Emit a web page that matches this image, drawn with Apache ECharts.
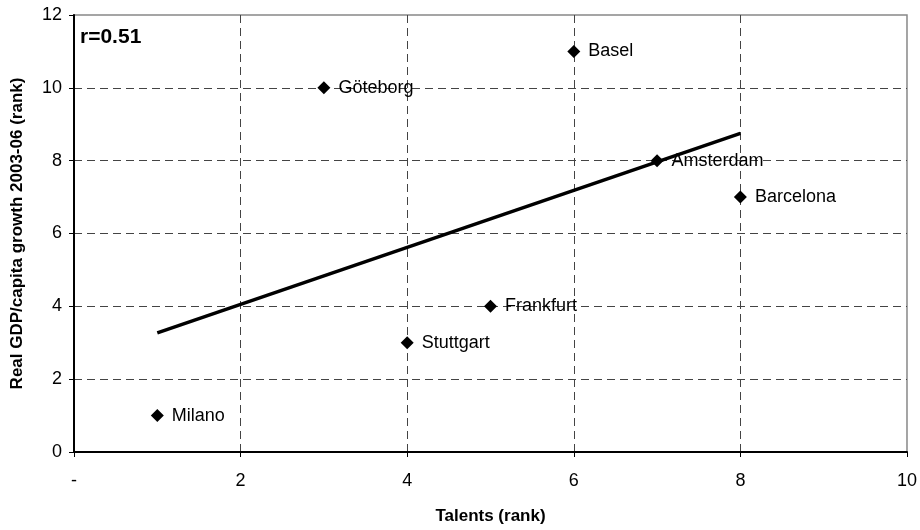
<!DOCTYPE html>
<html>
<head>
<meta charset="utf-8">
<script src="https://cdn.jsdelivr.net/npm/echarts@6/dist/echarts.min.js"></script>
<style>
  html, body { margin: 0; padding: 0; background: #fff; }
  #chart { width: 920px; height: 530px; }
</style>
</head>
<body>
<div id="chart"></div>
<script>
const cities = ['Milano', 'Göteborg', 'Stuttgart', 'Frankfurt', 'Basel', 'Amsterdam', 'Barcelona']
const talents = [1, 3, 4, 5, 6, 7, 8]
const gdpGrowth = [1, 10, 3, 4, 11, 8, 7]
const trendX = [1, 8]
const trendY = [3.27, 8.75]

const chart = echarts.init(document.getElementById('chart'))
const font = '"Liberation Sans", Arial, sans-serif'

const option = {
  animation: false,
  textStyle: { fontFamily: font },
  grid: {
    left: 74,
    right: 11,
    top: 15,
    bottom: 78,
    show: true,
    borderColor: '#888',
    borderWidth: 1.5,
  },
  xAxis: {
    type: 'value',
    min: 0,
    max: 10,
    interval: 2,
    name: 'Talents (rank)',
    nameLocation: 'middle',
    nameGap: 56,
    nameTextStyle: { fontWeight: 'bold', fontSize: 17, color: '#000' },
    axisLine: { lineStyle: { color: '#000', width: 2 } },
    axisTick: { show: true, length: 5, lineStyle: { color: '#000' } },
    axisLabel: {
      fontSize: 18,
      color: '#000',
      margin: 20,
      formatter: (v) => (v === 0 ? '-' : v),
    },
    splitLine: { showMinLine: false, showMaxLine: false, lineStyle: { type: [8, 5], color: '#444' } },
  },
  yAxis: {
    type: 'value',
    min: 0,
    max: 12,
    interval: 2,
    name: 'Real GDP/capita growth 2003-06 (rank)',
    nameLocation: 'middle',
    nameGap: 48,
    nameTextStyle: { fontWeight: 'bold', fontSize: 17, color: '#000' },
    axisLine: { show: true, lineStyle: { color: '#000', width: 2 } },
    axisTick: { show: true, length: 5, lineStyle: { color: '#000' } },
    axisLabel: { fontSize: 18, color: '#000', margin: 12 },
    splitLine: { showMinLine: false, showMaxLine: false, lineStyle: { type: [8, 5], color: '#444' } },
  },
  graphic: [
    {
      type: 'text',
      left: 80,
      top: 27,
      style: { text: 'r=0.51', font: 'bold 21px ' + font, fill: '#000' },
    },
  ],
  series: [
    {
      name: 'Trend',
      type: 'line',
      data: trendX.map((x, i) => [x, trendY[i]]),
      symbol: 'none',
      lineStyle: { color: '#000', width: 3.5 },
      z: 2,
    },
    {
      name: 'Cities',
      type: 'scatter',
      symbol: 'diamond',
      symbolSize: 13,
      itemStyle: { color: '#000', opacity: 1 },
      data: talents.map((x, i) => ({ value: [x, gdpGrowth[i]], name: cities[i] })),
      label: {
        show: true,
        position: 'right',
        distance: 8,
        formatter: (p) => p.name,
        fontSize: 18,
        color: '#000',
      },
      z: 3,
    },
  ],
}

chart.setOption(option)
</script>
</body>
</html>
